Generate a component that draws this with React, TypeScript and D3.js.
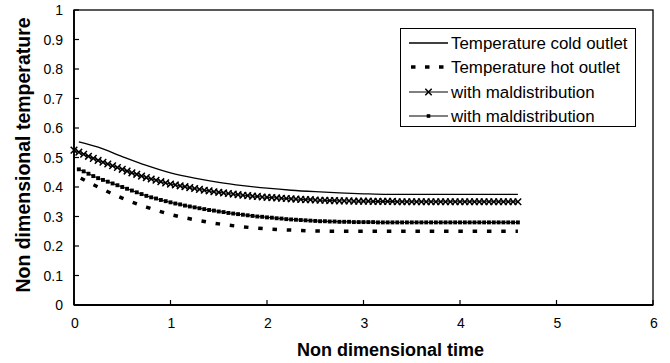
import React from "react";
import * as d3 from "d3";

// ---- data ----
const xTicks = [0, 1, 2, 3, 4, 5, 6];
const yTicks = [0, 0.1, 0.2, 0.3, 0.4, 0.5, 0.6, 0.7, 0.8, 0.9, 1];
const yTickLabels = ["0", "0.1", "0.2", "0.3", "0.4", "0.5", "0.6", "0.7", "0.8", "0.9", "1"];

const coldTime = [0.05, 0.25, 0.5, 0.75, 1, 1.25, 1.5, 1.75, 2, 2.25, 2.5, 2.75, 3, 3.25, 3.5, 4, 4.6];
const coldValues = [0.553, 0.535, 0.503, 0.473, 0.448, 0.43, 0.416, 0.405, 0.396, 0.389, 0.384, 0.38, 0.377, 0.375, 0.375, 0.375, 0.375];

const hotTime = [0.07, 0.25, 0.5, 0.75, 1, 1.25, 1.5, 1.75, 2, 2.25, 2.5, 2.75, 3, 3.5, 4, 4.6];
const hotValues = [0.43, 0.4, 0.362, 0.332, 0.307, 0.289, 0.275, 0.265, 0.258, 0.254, 0.251, 0.25, 0.25, 0.25, 0.25, 0.25];

const maldColdTime = [
  0, 0.05, 0.1, 0.15, 0.2, 0.25, 0.3, 0.35, 0.4, 0.45, 0.5, 0.55, 0.6, 0.65, 0.7, 0.75, 0.8, 0.85, 0.9, 0.95,
  1, 1.05, 1.1, 1.15, 1.2, 1.25, 1.3, 1.35, 1.4, 1.45, 1.5, 1.55, 1.6, 1.65, 1.7, 1.75, 1.8, 1.85, 1.9, 1.95,
  2, 2.05, 2.1, 2.15, 2.2, 2.25, 2.3, 2.35, 2.4, 2.45, 2.5, 2.55, 2.6, 2.65, 2.7, 2.75, 2.8, 2.85, 2.9, 2.95,
  3, 3.05, 3.1, 3.15, 3.2, 3.25, 3.3, 3.35, 3.4, 3.45, 3.5, 3.55, 3.6, 3.65, 3.7, 3.75, 3.8, 3.85, 3.9, 3.95,
  4, 4.05, 4.1, 4.15, 4.2, 4.25, 4.3, 4.35, 4.4, 4.45, 4.5, 4.55, 4.6,
];
const maldColdValues = [
  0.525, 0.518, 0.511, 0.504, 0.497, 0.49, 0.484, 0.478, 0.472, 0.466, 0.46, 0.454, 0.448, 0.443, 0.437, 0.432, 0.427, 0.423, 0.418, 0.414,
  0.41, 0.407, 0.404, 0.401, 0.398, 0.395, 0.392, 0.389, 0.387, 0.384, 0.382, 0.38, 0.378, 0.376, 0.374, 0.372, 0.371, 0.369, 0.368, 0.366,
  0.365, 0.364, 0.363, 0.362, 0.361, 0.36, 0.359, 0.358, 0.357, 0.357, 0.356, 0.355, 0.355, 0.354, 0.354, 0.353, 0.353, 0.353, 0.352, 0.352,
  0.352, 0.352, 0.351, 0.351, 0.351, 0.351, 0.351, 0.35, 0.35, 0.35, 0.35, 0.35, 0.35, 0.35, 0.35, 0.35, 0.35, 0.35, 0.35, 0.35,
  0.35, 0.35, 0.35, 0.35, 0.35, 0.35, 0.35, 0.35, 0.35, 0.35, 0.35, 0.35, 0.35,
];

const maldHotTime = [
  0.05, 0.1, 0.15, 0.2, 0.25, 0.3, 0.35, 0.4, 0.45, 0.5, 0.55, 0.6, 0.65, 0.7, 0.75, 0.8, 0.85, 0.9, 0.95,
  1, 1.05, 1.1, 1.15, 1.2, 1.25, 1.3, 1.35, 1.4, 1.45, 1.5, 1.55, 1.6, 1.65, 1.7, 1.75, 1.8, 1.85, 1.9, 1.95,
  2, 2.05, 2.1, 2.15, 2.2, 2.25, 2.3, 2.35, 2.4, 2.45, 2.5, 2.55, 2.6, 2.65, 2.7, 2.75, 2.8, 2.85, 2.9, 2.95,
  3, 3.05, 3.1, 3.15, 3.2, 3.25, 3.3, 3.35, 3.4, 3.45, 3.5, 3.55, 3.6, 3.65, 3.7, 3.75, 3.8, 3.85, 3.9, 3.95,
  4, 4.05, 4.1, 4.15, 4.2, 4.25, 4.3, 4.35, 4.4, 4.45, 4.5, 4.55, 4.6,
];
const maldHotValues = [
  0.46, 0.453, 0.445, 0.437, 0.43, 0.424, 0.418, 0.412, 0.406, 0.4, 0.394, 0.388, 0.382, 0.376, 0.37, 0.365, 0.361, 0.356, 0.352,
  0.348, 0.344, 0.341, 0.337, 0.334, 0.331, 0.328, 0.325, 0.322, 0.32, 0.317, 0.315, 0.312, 0.31, 0.308, 0.306, 0.304, 0.302, 0.3, 0.299,
  0.297, 0.296, 0.294, 0.293, 0.291, 0.29, 0.289, 0.288, 0.287, 0.286, 0.285, 0.284, 0.284, 0.283, 0.283, 0.282, 0.282, 0.282, 0.281, 0.281,
  0.281, 0.281, 0.281, 0.28, 0.28, 0.28, 0.28, 0.28, 0.28, 0.28, 0.28, 0.28, 0.28, 0.28, 0.28, 0.28, 0.28, 0.28, 0.28, 0.28,
  0.28, 0.28, 0.28, 0.28, 0.28, 0.28, 0.28, 0.28, 0.28, 0.28, 0.28, 0.28, 0.28,
];

const legendLabels = [
  "Temperature cold outlet",
  "Temperature hot outlet",
  "with maldistribution",
  "with maldistribution",
];

// ---- layout ----
const W = 670;
const H = 363;
const L = 74, R = 653, T = 10, B = 305;
const FONT = "'Liberation Sans', Arial, Helvetica, sans-serif";

export default function App() {
  const x = d3.scaleLinear().domain([0, 6]).range([L, R]);
  const y = d3.scaleLinear().domain([0, 1]).range([B, T]);

  const zip = (ts: number[], vs: number[]) => ts.map((t, i) => [t, vs[i]] as [number, number]);
  const smooth = d3.line<[number, number]>().x((d) => x(d[0])).y((d) => y(d[1])).curve(d3.curveMonotoneX);
  const straight = d3.line<[number, number]>().x((d) => x(d[0])).y((d) => y(d[1]));

  const cold = zip(coldTime, coldValues);
  const hot = zip(hotTime, hotValues);
  const mc = zip(maldColdTime, maldColdValues);
  const mh = zip(maldHotTime, maldHotValues);

  const xMark = (cx: number, cy: number, s: number, key: any) => (
    <path
      key={key}
      d={`M${cx - s},${cy - s}L${cx + s},${cy + s}M${cx - s},${cy + s}L${cx + s},${cy - s}`}
      stroke="#000"
      strokeWidth={1.5}
      fill="none"
    />
  );
  const sqMark = (cx: number, cy: number, s: number, key: any) => (
    <rect key={key} x={cx - s / 2} y={cy - s / 2} width={s} height={s} fill="#000" />
  );

  const legX0 = 409, legX1 = 448, legTextX = 451;
  const legRows = [43, 67, 92, 116];

  return (
    <svg
      width={W}
      height={H}
      style={{ position: "absolute", left: 0, top: 0, background: "#fff" }}
      fontFamily={FONT}
    >
      <rect x={0} y={0} width={W} height={H} fill="#fff" />
      {/* frame */}
      <rect x={L} y={T} width={R - L} height={B - T} fill="none" stroke="#000" strokeWidth={1.3} />
      <line x1={L} y1={T} x2={L} y2={B} stroke="#000" strokeWidth={1.8} />
      <line x1={L} y1={B} x2={R} y2={B} stroke="#000" strokeWidth={1.8} />

      {/* y ticks */}
      {yTicks.map((v, i) => (
        <g key={"yt" + i}>
          <line x1={L} x2={L + 5} y1={y(v)} y2={y(v)} stroke="#000" strokeWidth={1.2} />
          <text x={L - 11} y={y(v) + 5} textAnchor="end" fontSize={14} fill="#000">
            {yTickLabels[i]}
          </text>
        </g>
      ))}
      {/* x ticks */}
      {xTicks.map((v, i) => (
        <g key={"xt" + i}>
          <line x1={x(v)} x2={x(v)} y1={B} y2={B - 5} stroke="#000" strokeWidth={1.2} />
          <text x={x(v) + 1} y={B + 23} textAnchor="middle" fontSize={14} fill="#000">
            {v}
          </text>
        </g>
      ))}

      {/* series */}
      <path d={smooth(cold) || ""} fill="none" stroke="#000" strokeWidth={1.3} />
      <path d={smooth(hot) || ""} fill="none" stroke="#000" strokeWidth={3.5} strokeDasharray="4.5 9.8" />
      <path d={straight(mc) || ""} fill="none" stroke="#000" strokeWidth={1} />
      {mc.map((d, i) => xMark(x(d[0]), y(d[1]), 3.3, "mc" + i))}
      <path d={straight(mh) || ""} fill="none" stroke="#000" strokeWidth={1} />
      {mh.map((d, i) => sqMark(x(d[0]), y(d[1]), 3.9, "mh" + i))}

      {/* legend */}
      <rect x={400.5} y={28.5} width={235} height={98} fill="#fff" stroke="#000" strokeWidth={1} />
      <line x1={legX0} x2={legX1} y1={legRows[0]} y2={legRows[0]} stroke="#000" strokeWidth={1.3} />
      <line x1={legX0 + 2} x2={legX1} y1={legRows[1]} y2={legRows[1]} stroke="#000" strokeWidth={3.5} strokeDasharray="4.5 9.5" />
      <line x1={legX0} x2={legX1} y1={legRows[2]} y2={legRows[2]} stroke="#000" strokeWidth={1} />
      {xMark((legX0 + legX1) / 2, legRows[2], 3.2, "lx")}
      <line x1={legX0} x2={legX1} y1={legRows[3]} y2={legRows[3]} stroke="#000" strokeWidth={1} />
      {sqMark((legX0 + legX1) / 2, legRows[3], 3.6, "ls")}
      {legendLabels.map((s, i) => (
        <text key={"lg" + i} x={legTextX} y={legRows[i] + 5.8} fontSize={16.9} fill="#000">
          {s}
        </text>
      ))}

      {/* axis titles */}
      <text x={(L + R) / 2 + 27} y={356} textAnchor="middle" fontSize={18} fontWeight="bold" fill="#000">
        Non dimensional time
      </text>
      <text
        transform={`translate(30,155) rotate(-90)`}
        textAnchor="middle"
        fontSize={19.5}
        fontWeight="bold"
        fill="#000"
      >
        Non dimensional temperature
      </text>
    </svg>
  );
}
